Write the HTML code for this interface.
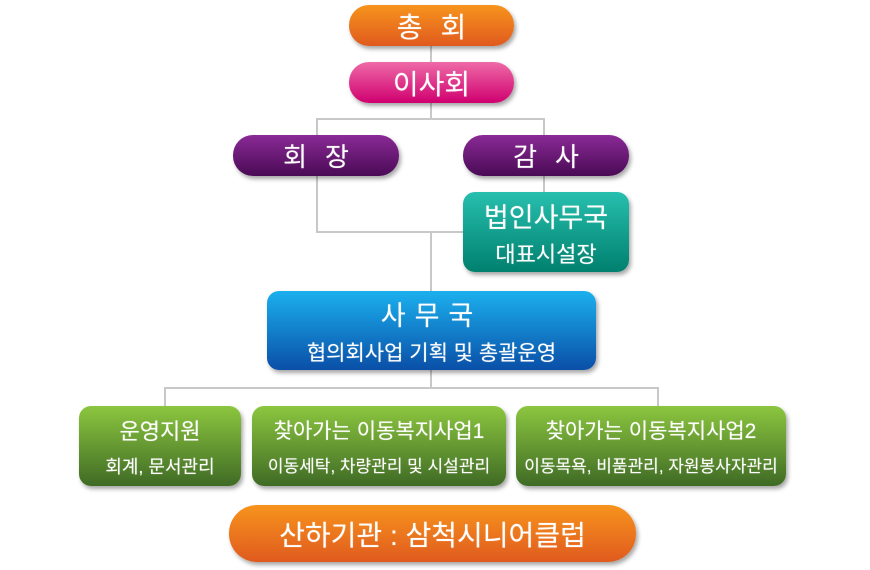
<!DOCTYPE html>
<html><head><meta charset="utf-8"><style>
body{margin:0;width:870px;height:570px;background:#fff;position:relative;overflow:hidden;font-family:"Liberation Sans","Noto Sans CJK KR",sans-serif;}
.b{position:absolute;color:#fff;text-align:center;box-sizing:border-box;box-shadow:2px 3px 4px rgba(0,0,0,.35);display:flex;flex-direction:column;justify-content:center;align-items:center;font-weight:normal;text-shadow:0 0 1px rgba(255,255,255,.5);}
.l{position:absolute;background:#c8c8c8;}
.or{background:linear-gradient(#f7941d,#e05a1e);}
.pk{background:linear-gradient(#ee6aa7,#d0006f);}
.pu{background:linear-gradient(#8a2a96,#4a0a55);}
.te{background:linear-gradient(#27bfae,#00806e);}
.bl{background:linear-gradient(#1bb0ee,#0a4fa8);}
.gr{background:linear-gradient(#8cc63f,#3f6b25);}
</style></head><body>
<div class="l" style="left:430px;top:46px;width:2px;height:16px"></div>
<div class="l" style="left:430px;top:103px;width:2px;height:16px"></div>
<div class="l" style="left:316px;top:118px;width:229px;height:2px"></div>
<div class="l" style="left:316px;top:118px;width:2px;height:17px"></div>
<div class="l" style="left:543px;top:118px;width:2px;height:17px"></div>
<div class="l" style="left:316px;top:176px;width:2px;height:57px"></div>
<div class="l" style="left:543px;top:176px;width:2px;height:16px"></div>
<div class="l" style="left:316px;top:231px;width:148px;height:2px"></div>
<div class="l" style="left:430px;top:231px;width:2px;height:60px"></div>
<div class="l" style="left:430px;top:370px;width:2px;height:18px"></div>
<div class="l" style="left:164px;top:387px;width:495px;height:2px"></div>
<div class="l" style="left:164px;top:387px;width:2px;height:19px"></div>
<div class="l" style="left:657px;top:387px;width:2px;height:19px"></div>

<div class="b or" style="left:349px;top:5px;width:165px;height:41px;border-radius:20px;font-size:28px;letter-spacing:18px;padding-left:18px">총회</div>
<div class="b pk" style="left:349px;top:62px;width:165px;height:41px;border-radius:20px;font-size:28px">이사회</div>
<div class="b pu" style="left:233px;top:135px;width:166px;height:41px;border-radius:20px;font-size:26px;letter-spacing:18px;padding-left:18px">회장</div>
<div class="b pu" style="left:463px;top:135px;width:166px;height:41px;border-radius:20px;font-size:26px;letter-spacing:18px;padding-left:18px">감사</div>
<div class="b te" style="left:463px;top:192px;width:166px;height:80px;border-radius:12px"><div style="font-size:27px">법인사무국</div><div style="font-size:22px;margin-top:2px">대표시설장</div></div>
<div class="b bl" style="left:267px;top:291px;width:329px;height:79px;border-radius:12px"><div style="font-size:27px;letter-spacing:9px">사무국</div><div style="font-size:21px;margin-top:4px">협의회사업 기획 및 총괄운영</div></div>
<div class="b gr" style="left:79px;top:406px;width:162px;height:80px;border-radius:12px"><div style="font-size:22px">운영지원</div><div style="font-size:18px;margin-top:7px">회계, 문서관리</div></div>
<div class="b gr" style="left:252px;top:406px;width:254px;height:80px;border-radius:12px"><div style="font-size:21px">찾아가는 이동복지사업1</div><div style="font-size:17px;margin-top:7px">이동세탁, 차량관리 및 시설관리</div></div>
<div class="b gr" style="left:516px;top:406px;width:270px;height:80px;border-radius:12px"><div style="font-size:21px">찾아가는 이동복지사업2</div><div style="font-size:17px;margin-top:7px">이동목욕, 비품관리, 자원봉사자관리</div></div>
<div class="b or" style="left:229px;top:505px;width:407px;height:57px;border-radius:28px;font-size:28px">산하기관 : 삼척시니어클럽</div>
</body></html>
